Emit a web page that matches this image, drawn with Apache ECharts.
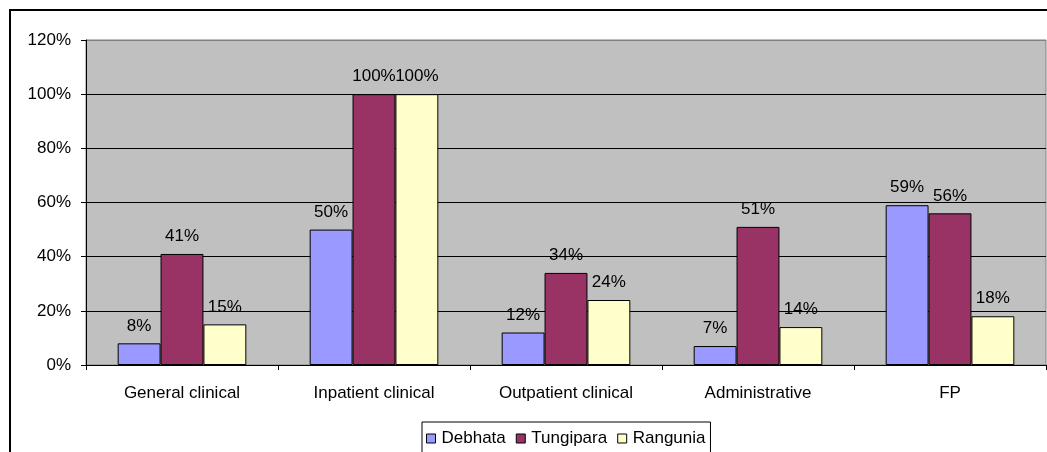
<!DOCTYPE html>
<html>
<head>
<meta charset="utf-8">
<style>
  html, body { margin: 0; padding: 0; background: #fff; }
  #chart { width: 1047px; height: 452px; }
</style>
<script src="https://cdn.jsdelivr.net/npm/echarts@6/dist/echarts.min.js"></script>
</head>
<body>
<div id="chart"></div>
<script>
// categories and values (percent)
const categories = ['General clinical', 'Inpatient clinical', 'Outpatient clinical', 'Administrative', 'FP']
const debhata = [8, 50, 12, 7, 59]
const tungipara = [41, 100, 34, 51, 56]
const rangunia = [15, 100, 24, 14, 18]

const font = 'Arial, "Liberation Sans", sans-serif'

let mychart = echarts.init(document.getElementById('chart'))

function barSeries(name, data, color) {
  return {
    name: name,
    type: 'bar',
    data: data,
    barGap: 0,
    barCategoryGap: '33%',
    itemStyle: { color: color, borderColor: '#000', borderWidth: 1 },
    label: {
      show: true,
      position: 'top',
      distance: 9,
      formatter: '{c}%',
      color: '#000',
      fontFamily: font,
      fontSize: 17
    },
    emphasis: { disabled: true }
  }
}

let option = {
  animation: false,
  backgroundColor: '#fff',
  grid: {
    left: 86,
    top: 40,
    right: 1,
    bottom: 87,
    show: true,
    backgroundColor: '#c0c0c0',
    borderColor: '#808080',
    borderWidth: 1
  },
  legend: {
    left: 422,
    top: 422,
    padding: [8, 5, 20, 4],
    borderColor: '#000',
    borderWidth: 1,
    borderRadius: 0,
    itemWidth: 9,
    itemHeight: 9,
    itemGap: 10,
    textStyle: { fontFamily: font, fontSize: 17, color: '#000', padding: [0, 0, 0, 1] },
    data: [
      { name: 'Debhata', icon: 'rect', itemStyle: { borderColor: '#000', borderWidth: 1 } },
      { name: 'Tungipara', icon: 'rect', itemStyle: { borderColor: '#000', borderWidth: 1 } },
      { name: 'Rangunia', icon: 'rect', itemStyle: { borderColor: '#000', borderWidth: 1 } }
    ]
  },
  xAxis: {
    type: 'category',
    data: categories,
    axisLine: { lineStyle: { color: '#000', width: 1 } },
    axisTick: { show: true, length: 5, lineStyle: { color: '#000' } },
    axisLabel: { color: '#000', fontFamily: font, fontSize: 17, margin: 20 }
  },
  yAxis: {
    type: 'value',
    min: 0,
    max: 120,
    interval: 20,
    axisLine: { show: true, lineStyle: { color: '#000', width: 1 } },
    axisTick: { show: true, length: 5, lineStyle: { color: '#000' } },
    axisLabel: { formatter: '{value}%', color: '#000', fontFamily: font, fontSize: 17, margin: 15 },
    splitLine: {
      lineStyle: { color: ['#000', '#000', '#000', '#000', '#000', '#000', '#808080'], width: 1 }
    }
  },
  graphic: [
    {
      type: 'rect',
      shape: { x: 10, y: 10, width: 1200, height: 800 },
      style: { fill: null, stroke: '#000', lineWidth: 2 },
      silent: true
    }
  ],
  series: [
    barSeries('Debhata', debhata, '#9999ff'),
    barSeries('Tungipara', tungipara, '#993366'),
    barSeries('Rangunia', rangunia, '#ffffcc')
  ]
}

mychart.setOption(option)
</script>
</body>
</html>
